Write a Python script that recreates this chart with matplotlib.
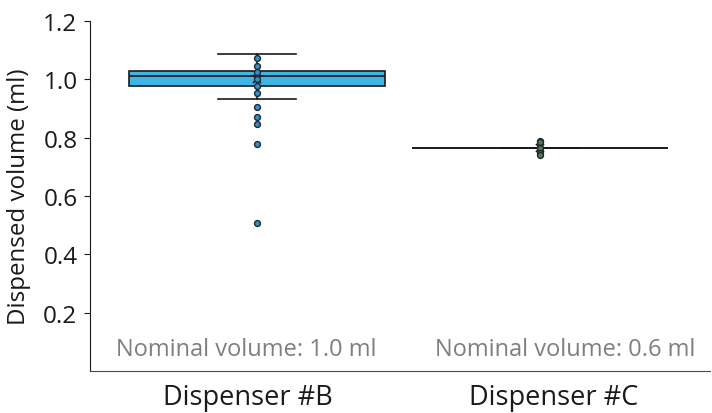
import matplotlib
matplotlib.use("Agg")
import matplotlib.pyplot as plt
import numpy as np

plt.rcParams['font.family'] = ['Open Sans', 'DejaVu Sans']

categories = ["Dispenser #B", "Dispenser #C"]
nominal_labels = ["Nominal volume: 1.0 ml", "Nominal volume: 0.6 ml"]

# Individual measurements (ml)
points_b = [1.072, 1.047, 1.024, 1.001, 0.978, 0.953, 0.906, 0.871, 0.848, 0.777, 0.507]
points_c = [0.788, 0.784, 0.765, 0.765, 0.746, 0.742]

# Box statistics (ml)
q1_vals = [0.976, 0.764]
med_vals = [1.013, 0.765]
q3_vals = [1.027, 0.766]
whislo_vals = [0.931, 0.764]
whishi_vals = [1.087, 0.766]
mean_vals = [1.001, 0.765]

box_positions = [0.539, 1.452]
label_positions = [0.51, 1.497]
nominal_positions = [0.503, 1.532]
box_colors = ["#41b4e6", "#41b4e6"]
point_colors = ["#3a8fc0", "#5c7a3c"]

fig = plt.figure(figsize=(7.12, 4.14), dpi=100)
ax = fig.add_axes([90/712, 1 - 372/414, 620/712, (372 - 22)/414])

stats = []
for i in range(len(categories)):
    stats.append(dict(q1=q1_vals[i], med=med_vals[i], q3=q3_vals[i],
                      whislo=whislo_vals[i], whishi=whishi_vals[i],
                      mean=mean_vals[i], fliers=[]))

bp = ax.bxp(stats, positions=box_positions, widths=0.826, patch_artist=True,
            showmeans=True, showfliers=False,
            boxprops=dict(edgecolor="#1a1a1a", linewidth=1.2),
            medianprops=dict(color="#1a1a1a", linewidth=1.2),
            whiskerprops=dict(color="#1a1a1a", linewidth=1.2),
            capprops=dict(color="#1a1a1a", linewidth=1.2),
            capwidths=0.25,
            meanprops=dict(marker="x", markeredgecolor="#1a1a1a", markersize=6, markeredgewidth=1.2))
for patch, c in zip(bp['boxes'], box_colors):
    patch.set_facecolor(c)

for pos, pts, c in zip(box_positions, [points_b, points_c], point_colors):
    ax.scatter(np.full(len(pts), pos), pts, s=18, facecolor=c, edgecolor="#1a2a3a",
               linewidth=1.0, zorder=5)

for pos, txt in zip(nominal_positions, nominal_labels):
    ax.text(pos, 0.076, txt, ha="center", va="center", fontsize=17, color="#7f7f7f")

ax.set_xlim(0, 2)
ax.set_ylim(0, 1.2)
ax.set_yticks([0.2, 0.4, 0.6, 0.8, 1.0, 1.2])
ax.set_yticklabels(["0.2", "0.4", "0.6", "0.8", "1.0", "1.2"])
ax.set_xticks(label_positions)
ax.set_xticklabels(categories)
ax.tick_params(axis='x', length=0, labelsize=19.5, pad=9, colors="#1a1a1a")
ax.tick_params(axis='y', length=4, labelsize=17.5, colors="#1a1a1a", pad=5)
ax.set_ylabel("Dispensed volume (ml)", fontsize=17.4, color="#1a1a1a", labelpad=9)

ax.spines['top'].set_visible(False)
ax.spines['right'].set_visible(False)
ax.spines['left'].set_color("#1a1a1a")
ax.spines['bottom'].set_color("#4a4a4a")

fig.savefig("out.png", dpi=100)
